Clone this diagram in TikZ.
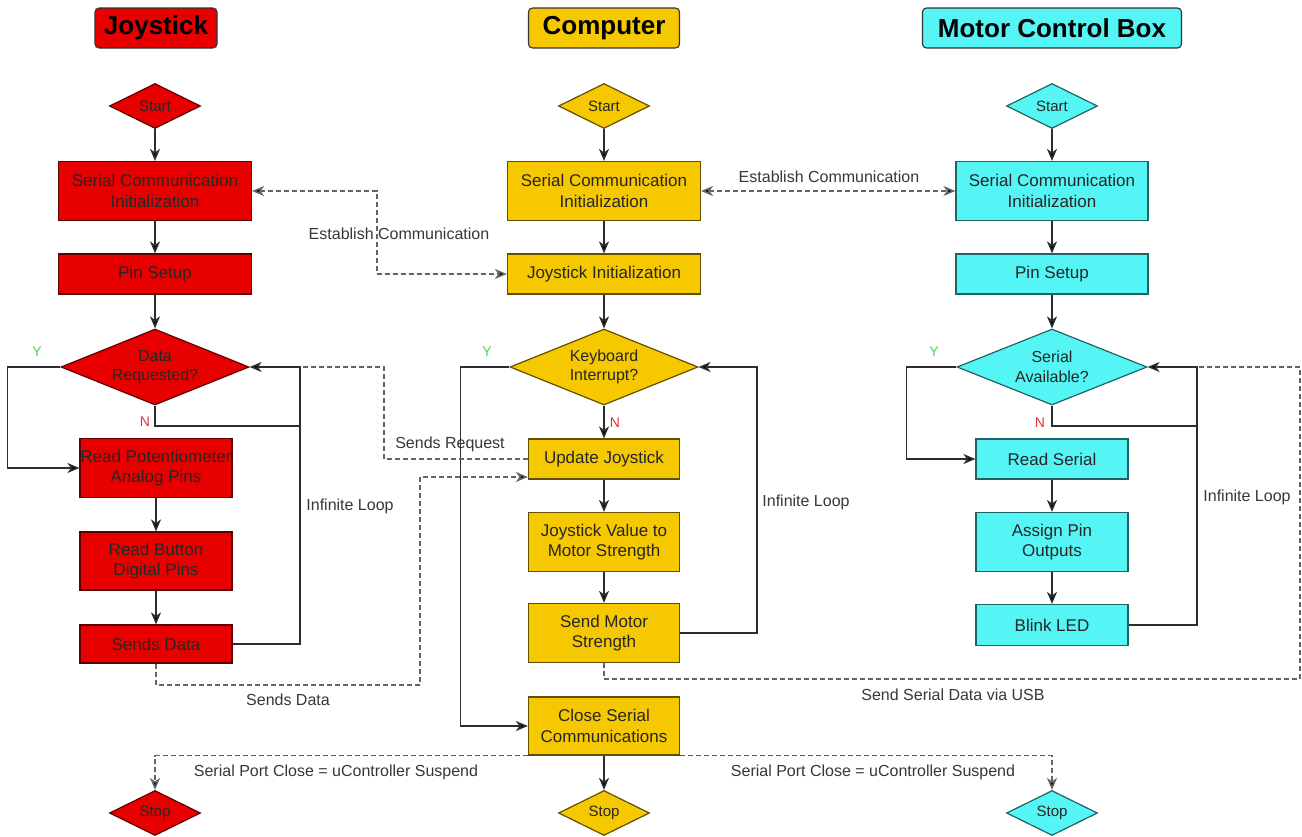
\documentclass[tikz,border=0pt]{standalone}
\usepackage{fontspec}
\setmainfont{Liberation Sans}
\usetikzlibrary{arrows.meta,shapes.geometric}
\definecolor{jred}{RGB}{232,0,0}
\definecolor{cyel}{RGB}{245,200,0}
\definecolor{mcyan}{RGB}{85,245,245}
\definecolor{lin}{RGB}{45,45,45}
\definecolor{dsh}{RGB}{100,100,100}
\definecolor{lbl}{RGB}{55,55,55}
\definecolor{ygreen}{RGB}{70,215,70}
\definecolor{nred}{RGB}{230,50,50}
\begin{document}
\begin{tikzpicture}[x=1pt,y=-1pt,
  tip/.style={-{Stealth[length=12pt,width=10pt,inset=3.5pt,fill=black]}},
  title/.style={draw=black!80, fill=#1, rounded corners=4pt, line width=1.1pt, minimum height=40pt, inner sep=0pt, font=\bfseries\fontsize{26}{30}\selectfont},
  proc/.style={rectangle, draw=#1!40!black, fill=#1, line width=1.2pt, inner sep=0pt, align=center, text=black!85, font=\fontsize{17}{20.5}\selectfont},
  dec/.style={diamond, aspect=2.5, draw=#1!40!black, fill=#1, line width=1.2pt, inner sep=0pt, align=center, text=black!85, font=\fontsize{16}{19.5}\selectfont, minimum width=188pt, minimum height=76pt},
  term/.style={diamond, aspect=2, draw=#1!40!black, fill=#1, line width=1.2pt, inner sep=0pt, text=black!85, font=\fontsize{15}{18}\selectfont, minimum width=91pt, minimum height=45pt},
  line/.style={draw=lin, line width=1.5pt},
  arr/.style={line, tip},
  dline/.style={draw=dsh, line width=1.5pt, dash pattern=on 5pt off 3pt},
  darr/.style={dline, tip},
  dboth/.style={dline, {Stealth[length=12pt,width=10pt,inset=3.5pt,fill=black]}-{Stealth[length=12pt,width=10pt,inset=3.5pt,fill=black]}},
  lab/.style={text=lbl, font=\fontsize{16}{19}\selectfont, inner sep=0pt},
  ylab/.style={text=ygreen, font=\fontsize{14}{16}\selectfont, inner sep=0pt},
  nlab/.style={text=nred, font=\fontsize{14}{16}\selectfont, inner sep=0pt}
]
\useasboundingbox (0,0) rectangle (1302,836);

% titles
\node[title=jred, minimum width=122pt] (jt) at (156,28) {Joystick};
\node[title=cyel, minimum width=151pt] (ct) at (604,28) {Computer};
\node[title=mcyan, minimum width=259pt] (mt) at (1052,28) {Motor Control Box};

% joystick column
\node[term=jred] (j0) at (155,106) {Start};
\node[proc=jred, minimum width=193pt, minimum height=59pt] (j1) at (155,191) {Serial Communication\\Initialization};
\node[proc=jred, minimum width=193pt, minimum height=40pt] (j2) at (155,274) {Pin Setup};
\node[dec=jred] (j3) at (155,367) {Data\\Requested?};
\node[proc=jred, minimum width=152pt, minimum height=59pt] (j4) at (156,468) {Read Potentiometer\\Analog Pins};
\node[proc=jred, minimum width=152pt, minimum height=58pt] (j5) at (156,561) {Read Button\\Digital Pins};
\node[proc=jred, minimum width=152pt, minimum height=38pt] (j6) at (156,644) {Sends Data};
\node[term=jred] (j7) at (155,813) {Stop};

% computer column
\node[term=cyel] (c0) at (604,106) {Start};
\node[proc=cyel, minimum width=193pt, minimum height=59pt] (c1) at (604,191) {Serial Communication\\Initialization};
\node[proc=cyel, minimum width=193pt, minimum height=40pt] (c2) at (604,274) {Joystick Initialization};
\node[dec=cyel] (c3) at (604,367) {Keyboard\\Interrupt?};
\node[proc=cyel, minimum width=151pt, minimum height=40pt] (c4) at (604,459) {Update Joystick};
\node[proc=cyel, minimum width=151pt, minimum height=59pt] (c5) at (604,542) {Joystick Value to\\Motor Strength};
\node[proc=cyel, minimum width=151pt, minimum height=59pt] (c6) at (604,633) {Send Motor\\Strength};
\node[proc=cyel, minimum width=151pt, minimum height=58pt] (c7) at (604,726) {Close Serial\\Communications};
\node[term=cyel] (c8) at (604,813) {Stop};

% motor column
\node[term=mcyan] (m0) at (1052,106) {Start};
\node[proc=mcyan, minimum width=192pt, minimum height=59pt] (m1) at (1052,191) {Serial Communication\\Initialization};
\node[proc=mcyan, minimum width=192pt, minimum height=40pt] (m2) at (1052,274) {Pin Setup};
\node[dec=mcyan, minimum width=190pt] (m3) at (1052,367) {Serial\\Available?};
\node[proc=mcyan, minimum width=152pt, minimum height=40pt] (m4) at (1052,459) {Read Serial};
\node[proc=mcyan, minimum width=152pt, minimum height=59pt] (m5) at (1052,542) {Assign Pin\\Outputs};
\node[proc=mcyan, minimum width=152pt, minimum height=41pt] (m6) at (1052,625) {Blink LED};
\node[term=mcyan] (m7) at (1052,813) {Stop};

% helper coordinates
\coordinate (jN) at (300,426);
\coordinate (jX) at (300,367);
\coordinate (ec) at (377,230);
\coordinate (sr) at (384,367);
\coordinate (sd1) at (420,685);
\coordinate (sd2) at (420,477);
\coordinate (cL) at (757,367);
\coordinate (mN) at (1197,426);
\coordinate (mX) at (1197,367);
\coordinate (usb) at (1300,679);

% joystick flow
\draw[arr] (j0) -- (j1);
\draw[arr] (j1) -- (j2);
\draw[arr] (j2) -- (j3);
\draw[arr] (j3.west) -- ++(-53,0) |- (j4.west);
\draw[line] (j3.south) |- (jN);
\draw[arr] (j6.east) -| (jN) |- (j3.east);
\draw[arr] (j4) -- (j5);
\draw[arr] (j5) -- (j6);

% computer flow
\draw[arr] (c0) -- (c1);
\draw[arr] (c1) -- (c2);
\draw[arr] (c2) -- (c3);
\draw[arr] (c3) -- (c4);
\draw[arr] (c4) -- (c5);
\draw[arr] (c5) -- (c6);
\draw[arr] (c3.west) -- ++(-49,0) |- (c7.west);
\draw[arr] (c6.east) -| (cL) -- (c3.east);
\draw[arr] (c7) -- (c8);

% motor flow
\draw[arr] (m0) -- (m1);
\draw[arr] (m1) -- (m2);
\draw[arr] (m2) -- (m3);
\draw[arr] (m3.west) -- ++(-50,0) |- (m4.west);
\draw[line] (m3.south) |- (mN);
\draw[arr] (m6.east) -| (mN) |- (m3.east);
\draw[arr] (m4) -- (m5);
\draw[arr] (m5) -- (m6);

% dashed communication lines
\draw[dboth] (j1.east) -| (ec) |- (c2.west);
\draw[dboth] (c1.east) -- (m1.west);
\draw[dline] (c4.west) -| (sr) -- (jX);
\draw[darr] (j6.south) |- (sd1) -- (sd2) -- (c4.west |- sd2);
\draw[dline] (c6.south) |- (usb) |- (mX);
\draw[darr] (c7.south west) -| (j7.north);
\draw[darr] (c7.south east) -| (m7.north);

% labels
\node[ylab] (jy) at (37,352) {Y};
\node[nlab] (jn) at (145,422) {N};
\node[ylab] (cy) at (487,352) {Y};
\node[nlab] (cn) at (615,423) {N};
\node[ylab] (my) at (934,352) {Y};
\node[nlab] (mn) at (1040,423) {N};
\node[lab] (l1) at (399,234) {Establish Communication};
\node[lab] (l2) at (829,177) {Establish Communication};
\node[lab] (l3) at (450,444) {Sends Request};
\node[lab] (l4) at (288,700) {Sends Data};
\node[lab] (l5) at (350,506) {Infinite Loop};
\node[lab] (l6) at (806,502) {Infinite Loop};
\node[lab] (l7) at (1247,497) {Infinite Loop};
\node[lab] (l8) at (953,695) {Send Serial Data via USB};
\node[lab] (l9) at (336,772) {Serial Port Close = uController Suspend};
\node[lab] (l10) at (873,772) {Serial Port Close = uController Suspend};
\end{tikzpicture}
\end{document}
